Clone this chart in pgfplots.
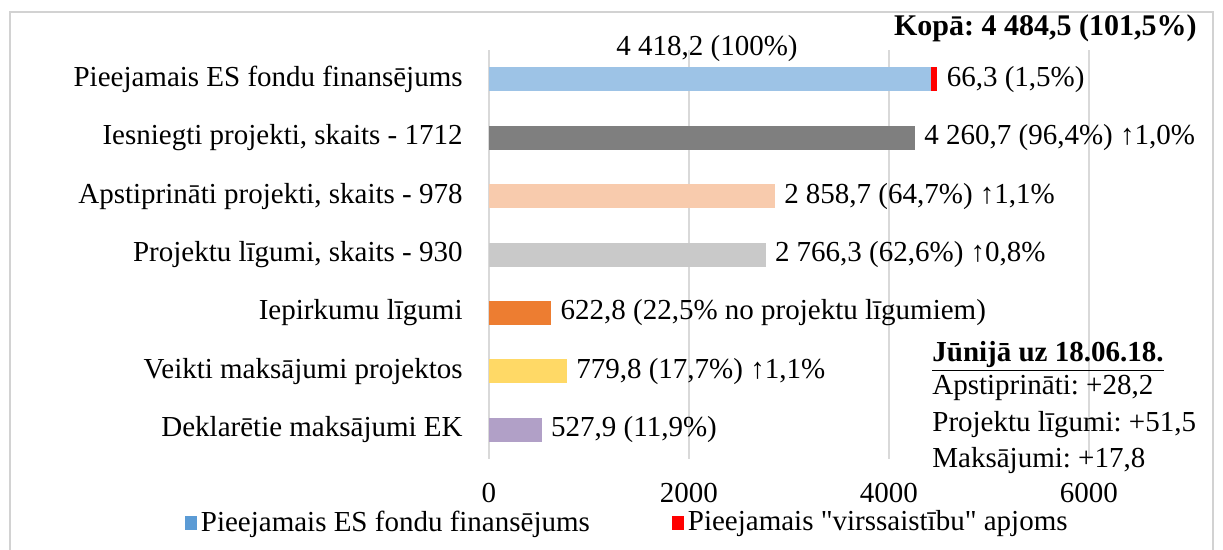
\documentclass[border=0pt]{standalone}
\usepackage{fontspec}
\setmainfont{Liberation Serif}[Ligatures=TeXOff]
\usepackage{pgfplots}
\pgfplotsset{compat=1.18}
\definecolor{cblue}{HTML}{9DC3E6}
\definecolor{legblue}{HTML}{5B9BD5}
\definecolor{cdgray}{HTML}{7F7F7F}
\definecolor{cpeach}{HTML}{F8CBAD}
\definecolor{clgray}{HTML}{C9C9C9}
\definecolor{corange}{HTML}{ED7D31}
\definecolor{cyellow}{HTML}{FFD966}
\definecolor{cpurple}{HTML}{B1A0C7}
\definecolor{cred}{HTML}{FF0000}
\newcommand\fsz{\fontsize{14.5pt}{17.4pt}\selectfont}
\frenchspacing
\begin{document}
\fsz
\begin{tikzpicture}
\path[use as bounding box] (-244.5pt,-45.5pt) rectangle (367pt,229.5pt);
\draw[color=gray!35, line width=0.75pt] (-239.5pt,-50pt) -- (-239.5pt,223.5pt) -- (362pt,223.5pt) -- (362pt,-50pt);
\begin{axis}[
  at={(0,0)}, anchor=south west,
  scale only axis, width=350pt, height=204.5pt,
  xbar, bar shift=0pt, bar width=12pt,
  xmin=0, xmax=7000, ymin=-0.5, ymax=6.5, y dir=reverse,
  ytick={0,1,2,3,4,5,6},
  yticklabels={Pieejamais ES fondu finansējums, {Iesniegti projekti, skaits - 1712}, {Apstiprināti projekti, skaits - 978}, {Projektu līgumi, skaits - 930}, Iepirkumu līgumi, Veikti maksājumi projektos, Deklarētie maksājumi EK},
  xtick={0,2000,4000,6000}, xticklabels={0,2000,4000,6000},
  xmajorgrids, ymajorgrids=false,
  grid style={draw=gray!30, line width=1pt},
  axis line style={draw=none},
  major tick length=0pt,
  clip=false,
  yticklabel style={anchor=east, inner sep=0pt, xshift=-13pt, font=\fsz},
  xticklabel style={anchor=north, inner sep=0pt, yshift=-12pt, font=\fsz},
  every node near coord/.append style={anchor=west, inner sep=0pt, xshift=4.5pt, text=black, font=\fsz},
  legend columns=2, reverse legend,
  legend cell align=left,
  legend image code/.code={\fill[#1] (0pt,-3.5pt) rectangle (6pt,3.5pt);},
  legend style={at={(axis description cs:-0.435,-0.1565)}, anchor=west, draw=none, fill=none, inner sep=0pt, font=\fsz,
    /tikz/every even column/.append style={column sep=39pt}},
]
\addplot[fill=cred, draw=none, nodes near coords={66,3 (1,5\%)}] coordinates {(4484.5,0)};
\addlegendentry{Pieejamais "virssaistību" apjoms}
\addplot[fill=cblue, draw=none, legend image code/.code={\fill[fill=legblue] (0pt,-3.5pt) rectangle (6pt,3.5pt);}] coordinates {(4418.2,0)};
\addlegendentry{Pieejamais ES fondu finansējums}
\addplot[fill=cdgray, draw=none, forget plot, nodes near coords={4 260,7 (96,4\%) ↑1,0\%}] coordinates {(4260.7,1)};
\addplot[fill=cpeach, draw=none, forget plot, nodes near coords={2 858,7 (64,7\%) ↑1,1\%}] coordinates {(2858.7,2)};
\addplot[fill=clgray, draw=none, forget plot, nodes near coords={2 766,3 (62,6\%) ↑0,8\%}] coordinates {(2766.3,3)};
\addplot[fill=corange, draw=none, forget plot, nodes near coords={622,8 (22,5\% no projektu līgumiem)}] coordinates {(622.8,4)};
\addplot[fill=cyellow, draw=none, forget plot, nodes near coords={779,8 (17,7\%) ↑1,1\%}] coordinates {(779.8,5)};
\addplot[fill=cpurple, draw=none, forget plot, nodes near coords={527,9 (11,9\%)}] coordinates {(527.9,6)};
\node[anchor=center, inner sep=0pt] at (axis cs:2180,-0.53) {4 418,2 (100\%)};
\node[anchor=east, inner sep=0pt, font=\fontsize{15pt}{18pt}\selectfont\bfseries] at (axis cs:7080,-0.88) {Kopā: 4 484,5 (101,5\%)};
\node[anchor=west, inner sep=0pt] at (axis cs:4430,4.74) {\underline{\textbf{Jūnijā uz 18.06.18.}}};
\node[anchor=west, inner sep=0pt] at (axis cs:4430,5.285) {Apstiprināti: +28,2};
\node[anchor=west, inner sep=0pt] at (axis cs:4430,5.918) {Projektu līgumi: +51,5};
\node[anchor=west, inner sep=0pt] at (axis cs:4430,6.534) {Maksājumi: +17,8};
\end{axis}
\end{tikzpicture}
\end{document}
